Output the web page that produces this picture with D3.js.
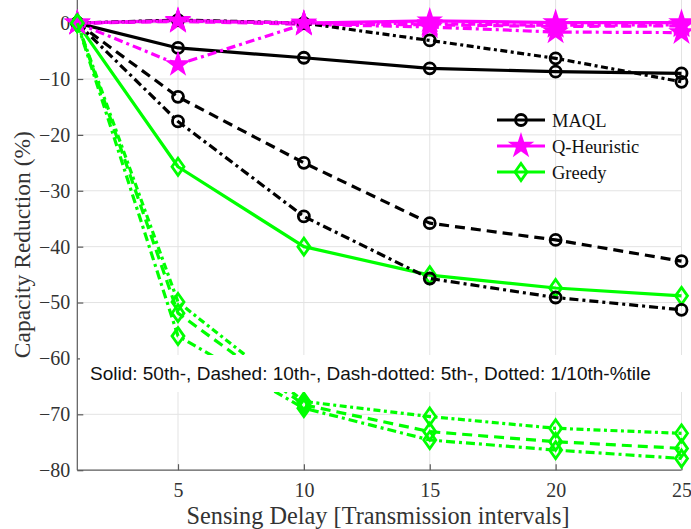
<!DOCTYPE html>
<html>
<head>
<meta charset="utf-8">
<script src="https://cdn.jsdelivr.net/npm/d3@7"></script>
<style>
  html, body { margin: 0; padding: 0; background: #fff; }
  svg { display: block; }
</style>
</head>
<body>
<svg id="chart" width="691" height="529"></svg>
<script>
// Sensing delay values (transmission intervals)
const delays = [1, 5, 10, 15, 20, 25];
const xTicks = [5, 10, 15, 20, 25];
const yTicks = [0, -10, -20, -30, -40, -50, -60, -70, -80];

// Capacity reduction (%) per method and percentile
const maqlP50   = [0, -4.45, -6.2, -8.1, -8.7, -9.0];
const maqlP10   = [0, -13.2, -25.0, -35.8, -38.8, -42.6];
const maqlP5    = [0, -17.6, -34.6, -45.7, -49.1, -51.3];
const maqlP01   = [0, 0.55, 0, -3.1, -6.3, -10.5];

const qhP50     = [0, 0.5, 0, 0.4, 0.1, 0.1];
const qhP10     = [0, 0.3, -0.2, -0.3, -0.6, -0.5];
const qhP5      = [0, -7.4, -0.2, -0.7, -1.6, -1.7];
const qhP01     = [0, 0.4, 0, -0.1, -0.4, -0.3];

const greedyP50 = [0, -25.7, -40.0, -45.1, -47.4, -48.8];
const greedyP10 = [0, -51.9, -68.3, -73.1, -74.9, -76.1];
const greedyP5  = [0, -56.0, -68.9, -74.6, -76.4, -77.9];
const greedyP01 = [0, -49.9, -67.7, -70.4, -72.5, -73.4];

const methods = [
  { name: "MAQL",        color: "#000000", marker: "circle",  series: [maqlP50, maqlP10, maqlP5, maqlP01] },
  { name: "Q-Heuristic", color: "#ff00ff", marker: "star",    series: [qhP50, qhP10, qhP5, qhP01] },
  { name: "Greedy",      color: "#00ff00", marker: "diamond", series: [greedyP50, greedyP10, greedyP5, greedyP01] }
];
// solid, dashed, dash-dotted, dotted
const dashes = [null, "10,6", "9,4,3,4", "7,3.5,3,3.5"];

const svg = d3.select("#chart");
const x = d3.scaleLinear().domain([1, 25]).range([77.3, 681.5]);
const y = d3.scaleLinear().domain([-80, 0]).range([470.2, 23.1]);

const serif = "'Liberation Serif', 'Times New Roman', serif";

// grid
const grid = svg.append("g");
grid.selectAll("line.gx").data(xTicks).join("line")
  .attr("x1", d => x(d)).attr("x2", d => x(d))
  .attr("y1", y(-80)).attr("y2", y(0) - 24)
  .attr("stroke", "#e3e3e3").attr("stroke-width", 1);
grid.selectAll("line.gy").data(yTicks.filter(d => d > -80)).join("line")
  .attr("x1", x(1)).attr("x2", x(25))
  .attr("y1", d => y(d)).attr("y2", d => y(d))
  .attr("stroke", "#e3e3e3").attr("stroke-width", 1);

// axes (ticks point inward)
const xAxis = d3.axisBottom(x).tickValues(xTicks).tickSize(-6).tickPadding(13).tickFormat(d3.format("d"));
const yAxis = d3.axisLeft(y).tickValues(yTicks).tickSize(-6).tickPadding(7)
  .tickFormat(d => d < 0 ? "\u2212" + Math.abs(d) : String(d));

const gx = svg.append("g").attr("transform", `translate(0,${y(-80)})`).call(xAxis);
const gy = svg.append("g").attr("transform", `translate(${x(1)},0)`).call(yAxis);
[gx, gy].forEach(g => {
  g.select(".domain").attr("stroke", "#5a5a5a").attr("stroke-width", 1.2);
  g.selectAll(".tick line").attr("stroke", "#5a5a5a").attr("stroke-width", 1.2);
  g.selectAll(".tick text").attr("fill", "#333").style("font-family", serif).style("font-size", "20px");
});
gy.select(".domain").attr("d", `M0,${y(-80)}V${y(0) - 24}`);
gx.select(".domain").attr("d", `M${x(1)},0H${x(25)}`);

// axis titles
svg.append("text")
  .attr("x", 378).attr("y", 524)
  .attr("text-anchor", "middle")
  .attr("fill", "#333")
  .style("font-family", serif).style("font-size", "24.3px")
  .text("Sensing Delay [Transmission intervals]");
svg.append("text")
  .attr("transform", `translate(30,${y(-40) - 2}) rotate(-90)`)
  .attr("text-anchor", "middle")
  .attr("fill", "#333")
  .style("font-family", serif).style("font-size", "23.5px")
  .text("Capacity Reduction (%)");

// marker shapes
function markerPath(kind) {
  if (kind === "circle") return d3.symbol(d3.symbolCircle, 95)();
  if (kind === "star") return d3.symbol(d3.symbolStar, 100)();
  return "M0,-8.5L6,0L0,8.5L-6,0Z";
}

const line = d3.line().x((d, i) => x(delays[i])).y(d => y(d));

const plot = svg.append("g");
for (let p = 0; p < 4; p++) {
  methods.forEach(m => {
    const vals = m.series[p];
    plot.append("path")
      .datum(vals)
      .attr("d", line)
      .attr("fill", "none")
      .attr("stroke", m.color)
      .attr("stroke-width", 3.2)
      .attr("stroke-dasharray", dashes[p])
      .attr("stroke-linejoin", "round");
    plot.selectAll(null).data(vals).join("path")
      .attr("transform", (d, i) => `translate(${x(delays[i])},${y(d)})`)
      .attr("d", markerPath(m.marker))
      .attr("fill", m.marker === "star" ? m.color : "none")
      .attr("stroke", m.color)
      .attr("stroke-width", 2.8);
  });
}

// legend
const legend = svg.append("g").attr("transform", "translate(497,120)");
methods.forEach((m, i) => {
  const g = legend.append("g").attr("transform", `translate(0,${i * 26})`);
  g.append("line").attr("x1", 0).attr("x2", 48).attr("y1", 0).attr("y2", 0)
    .attr("stroke", m.color).attr("stroke-width", 3.2);
  g.append("path").attr("transform", "translate(24,0)")
    .attr("d", markerPath(m.marker))
    .attr("fill", m.marker === "star" ? m.color : "none")
    .attr("stroke", m.color).attr("stroke-width", 2.8);
  g.append("text").attr("x", 55).attr("y", 6.5)
    .attr("fill", "#111")
    .style("font-family", serif).style("font-size", "18.5px")
    .text(m.name);
});

// line-style note
const note = svg.append("g");
note.append("rect").attr("x", 80).attr("y", 355).attr("width", 611).attr("height", 37).attr("fill", "#fff");
note.append("text").attr("x", 90).attr("y", 380)
  .attr("fill", "#111")
  .style("font-family", "'Liberation Sans', Arial, sans-serif").style("font-size", "19px")
  .text("Solid: 50th-, Dashed: 10th-, Dash-dotted: 5th-, Dotted: 1/10th-%tile");
</script>
</body>
</html>
